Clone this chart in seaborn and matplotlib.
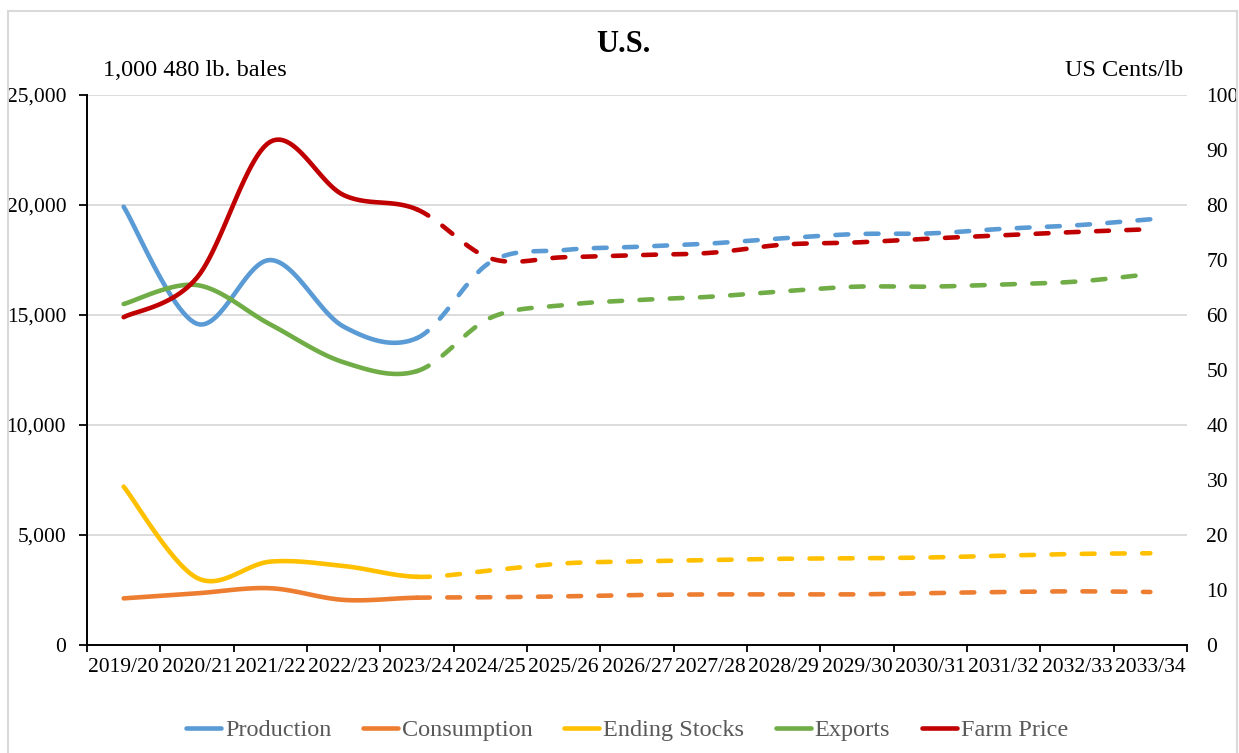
import numpy as np
import pandas as pd
import matplotlib
matplotlib.use("Agg")
import matplotlib.pyplot as plt
from matplotlib.lines import Line2D
from matplotlib.patches import Rectangle
from matplotlib.ticker import FuncFormatter, MultipleLocator, FixedLocator
import seaborn as sns

# ---- data -------------------------------------------------------------
years = ["2019/20", "2020/21", "2021/22", "2022/23", "2023/24", "2024/25",
         "2025/26", "2026/27", "2027/28", "2028/29", "2029/30", "2030/31",
         "2031/32", "2032/33", "2033/34"]
production = [19920, 14600, 17500, 14470, 13950, 17400, 17950, 18100,
              18250, 18490, 18680, 18710, 18920, 19080, 19350]
consumption = [2120, 2350, 2580, 2050, 2150, 2170, 2210, 2270,
               2300, 2300, 2300, 2360, 2410, 2440, 2410]
ending_stocks = [7200, 3050, 3790, 3590, 3100, 3390, 3710, 3800,
                 3860, 3920, 3940, 3980, 4060, 4140, 4170]
exports = [15500, 16360, 14570, 12850, 12450, 14870, 15450, 15680,
           15830, 16080, 16290, 16290, 16390, 16520, 16860]
farm_price = [59.6, 66.8, 91.5, 81.8, 79.2, 70.3, 70.5, 70.9,
              71.3, 72.8, 73.2, 73.9, 74.5, 75.1, 75.6]
last_actual = 4  # index of 2023/24; projections drawn dashed from here

left_series = [("Production", production, "#5B9BD5"),
               ("Consumption", consumption, "#ED7D31"),
               ("Ending Stocks", ending_stocks, "#FFC000"),
               ("Exports", exports, "#70AD47")]
right_series = [("Farm Price", farm_price, "#C00000")]

# ---- styling ----------------------------------------------------------
sns.set_theme(style="white")
plt.rcParams["font.family"] = ["Liberation Serif", "DejaVu Serif"]
W, H = 1239, 753
FS_TICK = 15.5
FS_LABEL = 17.5
LW = 3.3
DASH = (0, (2.8, 3.8))


def smooth(yv, n=24):
    """Bezier-smoothed path through the points (Catmull-Rom control points)."""
    x = np.arange(len(yv), dtype=float)
    y = np.asarray(yv, dtype=float)
    px = np.concatenate([[x[0]], x, [x[-1]]])
    py = np.concatenate([[y[0]], y, [y[-1]]])
    xs, ys, seg = [], [], []
    t = np.linspace(0, 1, n)
    for i in range(len(y) - 1):
        p0x, p0y = px[i + 1], py[i + 1]
        p1x, p1y = px[i + 2], py[i + 2]
        c1x = p0x + (p1x - px[i]) / 6
        c1y = p0y + (p1y - py[i]) / 6
        c2x = p1x - (px[i + 3] - p0x) / 6
        c2y = p1y - (py[i + 3] - p0y) / 6
        b = [(1 - t) ** 3, 3 * (1 - t) ** 2 * t, 3 * (1 - t) * t ** 2, t ** 3]
        xs.append(b[0] * p0x + b[1] * c1x + b[2] * c2x + b[3] * p1x)
        ys.append(b[0] * p0y + b[1] * c1y + b[2] * c2y + b[3] * p1y)
        seg.append(np.full(n, i))
    return pd.DataFrame({"x": np.concatenate(xs), "y": np.concatenate(ys),
                         "seg": np.concatenate(seg)})


def draw(ax, values, color):
    df = smooth(values)
    actual = df[df["seg"] < last_actual]
    proj = df[df["seg"] >= last_actual]
    sns.lineplot(data=actual, x="x", y="y", ax=ax, color=color, lw=LW,
                 estimator=None, sort=False, legend=False,
                 solid_capstyle="round")
    sns.lineplot(data=proj, x="x", y="y", ax=ax, color=color, lw=LW,
                 estimator=None, sort=False, legend=False,
                 linestyle=DASH, dash_capstyle="round")


fig = plt.figure(figsize=(W / 100, H / 100), dpi=100)
ax = fig.add_axes([87 / W, 1 - 645 / H, 1100 / W, 550 / H])
ax2 = ax.twinx()

for name, vals, col in left_series:
    draw(ax, vals, col)
for name, vals, col in right_series:
    draw(ax2, vals, col)

# left axis
ax.set_xlim(-0.5, len(years) - 0.5)
ax.set_ylim(0, 25000)
ax.yaxis.set_major_locator(MultipleLocator(5000))
ax.yaxis.set_major_formatter(FuncFormatter(lambda v, p: f"{v:,.0f}"))
ax.yaxis.grid(True, color="#d9d9d9", lw=1.3)
ax.xaxis.grid(False)
ax.set_axisbelow(True)
ax.set_xlabel("")
ax.set_ylabel("")
ax.set_xticks(range(len(years)))
ax.set_xticklabels(years)
ax.xaxis.set_minor_locator(FixedLocator(np.arange(-0.5, len(years), 1.0)))
ax.tick_params(axis="x", which="major", length=0, pad=9, labelsize=FS_TICK,
               labelcolor="black")
ax.tick_params(axis="x", which="minor", bottom=True, direction="out",
               length=5, width=1.3, color="black")
ax.tick_params(axis="y", left=True, direction="out", length=6, width=1.3,
               color="black", pad=9, labelsize=FS_TICK, labelcolor="black")
for s in ["top", "right"]:
    ax.spines[s].set_visible(False)
for s in ["left", "bottom"]:
    ax.spines[s].set_color("black")
    ax.spines[s].set_linewidth(1.4)

# right axis
ax2.set_ylim(0, 100)
ax2.yaxis.set_major_locator(MultipleLocator(10))
ax2.set_ylabel("")
ax2.tick_params(axis="y", right=True, length=0, pad=14, labelsize=FS_TICK,
                labelcolor="black")
for s in ax2.spines.values():
    s.set_visible(False)
ax2.grid(False)

# titles and unit labels
fig.text(623 / W, 1 - 44 / H, "U.S.", ha="center", va="center",
         fontsize=22, fontweight="bold", color="black")
fig.text(103 / W, 1 - 76 / H, "1,000 480 lb. bales", ha="left",
         va="baseline", fontsize=FS_LABEL, color="black")
fig.text(1183 / W, 1 - 76 / H, "US Cents/lb", ha="right",
         va="baseline", fontsize=FS_LABEL, color="black")

# legend
handles = [Line2D([0], [0], color=c, lw=LW, solid_capstyle="round")
           for _, _, c in left_series + right_series]
labels = [n for n, _, _ in left_series + right_series]
fig.legend(handles, labels, loc="center", bbox_to_anchor=(627 / W, 1 - 730 / H),
           ncol=5, frameon=False, handlelength=1.45, handletextpad=0.15,
           columnspacing=1.3, fontsize=FS_LABEL, labelcolor="#595959")

# chart-area border
fig.add_artist(Rectangle((8 / W, -0.05), (1237 - 8) / W, 1.05 - 11 / H,
                         transform=fig.transFigure, fill=False,
                         edgecolor="#d9d9d9", lw=1.5, clip_on=False))

fig.savefig("out.png", dpi=100)
